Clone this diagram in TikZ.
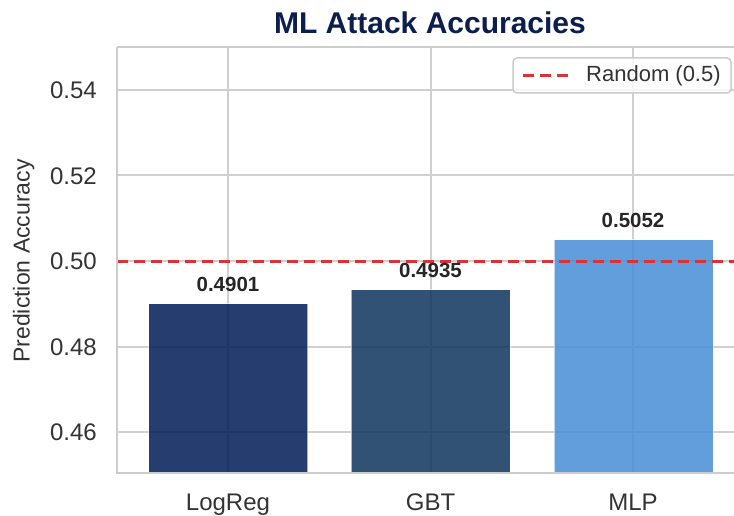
\documentclass[tikz,border=0pt]{standalone}
\usepackage{fontspec}
\setmainfont{Liberation Sans}
\definecolor{gridgray}{RGB}{208,208,208}
\definecolor{spinegray}{RGB}{204,204,204}
\definecolor{titlenavy}{RGB}{12,30,78}
\definecolor{cLogReg}{RGB}{0,29,86}
\definecolor{cGBT}{RGB}{14,51,93}
\definecolor{cMLP}{RGB}{71,142,213}
\definecolor{randred}{RGB}{218,50,55}
\definecolor{ticktext}{RGB}{51,51,51}
\definecolor{valtext}{RGB}{38,38,38}
\begin{document}
\begin{tikzpicture}[x=1pt,y=-1pt,
  gridline/.style={draw=gridgray,line width=2pt},
  spine/.style={draw=spinegray,line width=2.5pt},
  bar/.style={fill opacity=0.85,draw=white,draw opacity=0.6,line width=1pt},
  randline/.style={draw=randred,line width=3pt,dash pattern=on 11pt off 6pt},
  yticklab/.style={anchor=base east,text=ticktext,font=\fontsize{24}{28}\selectfont,inner sep=0pt},
  xticklab/.style={anchor=base,text=ticktext,font=\fontsize{24}{28}\selectfont,inner sep=0pt},
  vallab/.style={anchor=base,text=valtext,font=\fontsize{20.5}{24}\selectfont\bfseries,inner sep=0pt},
  legbox/.style={draw=spinegray,line width=1.5pt,fill=white,fill opacity=0.8,rounded corners=4pt}
]
\useasboundingbox (0,0) rectangle (734,516);
\fill[white] (0,0) rectangle (734,516);
% axes region
\begin{scope}
\clip (117,47) rectangle (743,473);
% grid
\foreach \yy in {90,175.5,261,346.5,432} \draw[gridline] (117,\yy) -- (743,\yy);
\foreach \xx in {228,430.5,633} \draw[gridline] (\xx,47) -- (\xx,473);
% bars
\filldraw[bar,fill=cLogReg] (148.5,303.5) rectangle (307.5,480);
\filldraw[bar,fill=cGBT] (351,289.5) rectangle (510,480);
\filldraw[bar,fill=cMLP] (554,239.5) rectangle (713,480);
% random line
\coordinate (rl) at (117,261);
\coordinate (rr) at (743,261);
\draw[randline] (rl) -- (rr);
\end{scope}
% spines
\draw[spine] (117,47) -- (117,473) -- (743,473);
\draw[spine] (117,47) -- (743,47);
% tick labels
\node[yticklab] (y54) at (97,98.6) {0.54};
\node[yticklab] (y52) at (97,184.1) {0.52};
\node[yticklab] (y50) at (97,269.6) {0.50};
\node[yticklab] (y48) at (97,355.1) {0.48};
\node[yticklab] (y46) at (97,440.6) {0.46};
\node[xticklab] (xl1) at (228,510.5) {LogReg};
\node[xticklab] (xl2) at (430.5,510.5) {GBT};
\node[xticklab] (xl3) at (633,510.5) {MLP};
% value labels
\node[vallab] (v1) at (228,291.5) {0.4901};
\node[vallab] (v2) at (430.5,277.5) {0.4935};
\node[vallab] (v3) at (633,227) {0.5052};
% axis label
\node[rotate=90,anchor=base,text=ticktext,font=\fontsize{23}{27}\selectfont,inner sep=0pt] (ylab) at (29.5,261) {Prediction Accuracy};
% title
\node[anchor=base,text=titlenavy,font=\fontsize{30}{36}\selectfont\bfseries,inner sep=0pt] (title) at (430,33.5) {ML Attack Accuracies};
% legend
\path[legbox] (513,58) rectangle (731,93);
\coordinate (la) at (523,75.5);
\coordinate (lb) at (568,75.5);
\draw[randline] (la) -- (lb);
\node[anchor=base west,text=ticktext,font=\fontsize{22}{26}\selectfont,inner sep=0pt] (legtext) at (586,82) {Random (0.5)};
\end{tikzpicture}
\end{document}
